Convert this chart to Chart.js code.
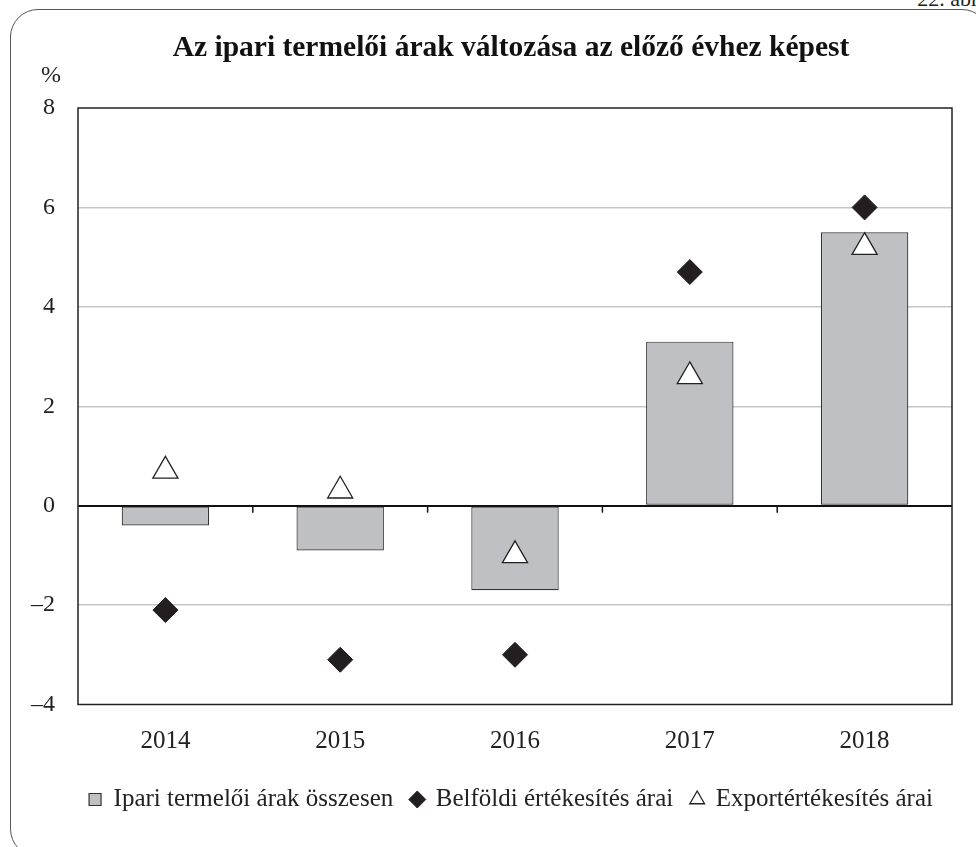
<!DOCTYPE html>
<html>
<head>
<meta charset="utf-8">
<script src="https://cdn.jsdelivr.net/npm/chart.js@4.4.1/dist/chart.umd.min.js"></script>
<style>
  html, body { margin: 0; padding: 0; background: #fff; overflow: hidden; }
  #wrap { position: relative; width: 976px; height: 847px; overflow: hidden; }
  #frame { position: absolute; left: 10px; top: 9px; width: 980px; height: 848px;
           border: 1.5px solid #555; border-radius: 28px; box-sizing: border-box; }
  #tag { position: absolute; right: -12px; top: -14px; font: 22px 'Liberation Serif', serif; color: #222; }
  canvas { position: absolute; left: 0; top: 0; }
</style>
</head>
<body>
<div id="wrap">
  <div id="frame"></div>
  <div id="tag">22. ábra</div>
  <canvas id="chart" width="976" height="847"></canvas>
</div>
<script>
const YEARS = ['2014', '2015', '2016', '2017', '2018'];
const TOTAL = [-0.4, -0.9, -1.7, 3.3, 5.5];
const DOMESTIC = [-2.1, -3.1, -3.0, 4.7, 6.0];
const EXPORT = [0.7, 0.3, -1.0, 2.6, 5.2];

const serif = "'Liberation Serif', 'Times New Roman', serif";

// plot frame, zero-line ticks and the % label
const extras = {
  id: 'extras',
  beforeDatasetsDraw(chart) {
    const { ctx, scales: { x, y } } = chart;
    ctx.save();
    const y0 = y.getPixelForValue(0);
    ctx.strokeStyle = '#111';
    ctx.lineWidth = 1.5;
    for (let i = 0; i < YEARS.length - 1; i++) {
      const xb = (x.getPixelForValue(i) + x.getPixelForValue(i + 1)) / 2;
      ctx.beginPath();
      ctx.moveTo(xb, y0);
      ctx.lineTo(xb, y0 + 7);
      ctx.stroke();
    }
    ctx.restore();
  },
  afterDraw(chart) {
    const { ctx, chartArea: a } = chart;
    ctx.save();
    ctx.strokeStyle = '#222';
    ctx.lineWidth = 1.5;
    ctx.strokeRect(a.left, a.top, a.right - a.left, a.bottom - a.top);
    ctx.fillStyle = '#222';
    ctx.font = '24px ' + serif;
    ctx.textAlign = 'center';
    ctx.textBaseline = 'middle';
    ctx.fillText('%', a.left - 27, a.top - 32);
    ctx.restore();
  }
};

new Chart(document.getElementById('chart'), {
  type: 'bar',
  data: {
    labels: YEARS,
    datasets: [
      {
        label: 'Ipari termelői árak összesen',
        data: TOTAL,
        backgroundColor: '#bfc0c4',
        borderColor: '#333',
        borderWidth: 1.2,
        borderSkipped: false,
        barPercentage: 0.5,
        categoryPercentage: 1,
        pointStyle: 'rect',
        order: 3
      },
      {
        type: 'line',
        label: 'Belföldi értékesítés árai',
        data: DOMESTIC,
        showLine: false,
        pointStyle: 'rectRot',
        pointRadius: 12.5,
        backgroundColor: '#231f20',
        borderColor: '#231f20',
        borderWidth: 1,
        order: 2
      },
      {
        type: 'line',
        label: 'Exportértékesítés árai',
        data: EXPORT,
        showLine: false,
        pointStyle: 'triangle',
        pointRadius: 14.5,
        backgroundColor: '#fff',
        borderColor: '#222',
        borderWidth: 1.3,
        order: 1
      }
    ]
  },
  options: {
    responsive: false,
    animation: false,
    events: [],
    layout: { padding: { left: 70, right: 24, top: 0, bottom: 25 } },
    plugins: {
      title: {
        display: true,
        text: 'Az ipari termelői árak változása az előző évhez képest',
        color: '#111',
        font: { family: serif, size: 29.5, weight: 'bold' },
        padding: { top: 31, bottom: 41.6 }
      },
      legend: {
        position: 'bottom',
        labels: {
          usePointStyle: true,
          boxWidth: 12,
          boxHeight: 12,
          padding: 18,
          color: '#222',
          font: { family: serif, size: 25 },
          sort: (a, b) => a.datasetIndex - b.datasetIndex
        }
      },
      tooltip: { enabled: false }
    },
    scales: {
      x: {
        grid: { display: false, drawTicks: false },
        border: { display: false },
        afterFit: (s) => { s.height = 64.5; },
        ticks: { color: '#222', font: { family: serif, size: 25 }, padding: 22 }
      },
      y: {
        min: -4,
        max: 8,
        // thin axis box so the plot starts at the same x as the reference;
        // labels are mirrored and pushed back out to the left
        afterFit: (s) => { s.width = 8; },
        border: { display: false },
        grid: {
          drawTicks: false,
          lineWidth: (c) => (c.tick && c.tick.value === 0 ? 2 : 1.5),
          color: (c) => {
            const v = c.tick && c.tick.value;
            if (v === 0) return '#111';
            if (v === 8 || v === -4) return 'rgba(0,0,0,0)';
            return '#c6c6c6';
          }
        },
        ticks: {
          stepSize: 2,
          mirror: true,
          crossAlign: 'far',
          padding: -47,
          color: '#222',
          font: { family: serif, size: 24 },
          callback: (v) => (v < 0 ? '–' + Math.abs(v) : String(v))
        }
      }
    }
  },
  plugins: [extras]
});
</script>
</body>
</html>
